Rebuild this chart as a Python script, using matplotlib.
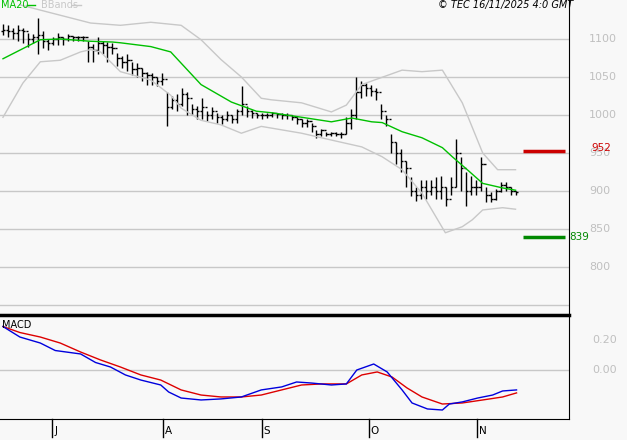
import matplotlib
matplotlib.use("Agg")
import matplotlib.pyplot as plt

# daily bars (one per trading day, mid-June to mid-Nov 2025)
close = [1112,1110,1108,1112,1110,1100,1102,1105,1098,1095,1100,1103,1100,
         1104,1102,1103,1102,1090,1085,1095,1092,1090,1088,1075,1070,1072,1060,1062,1055,
         1052,1050,1045,1048,1010,1020,1015,1028,1022,1008,1005,1010,1000,1005,998,995,
         1000,995,1005,1015,1005,1002,1000,1000,1000,1002,1001,1000,1000,998,995,990,
         992,985,975,980,975,976,975,975,990,1000,1030,1040,1035,1032,1030,1005,
         995,965,950,940,930,900,895,905,900,905,900,905,890,905,950,930,900,905,905,935,
         895,890,900,908,905,900,898]
opens = [1110,1112,1110,1108,1112,1110,1100,1102,1105,1098,1095,1100,1103,
         1100,1104,1102,1103,1102,1090,1085,1095,1092,1090,1088,1075,1070,1072,1060,1062,
         1055,1052,1050,1045,1048,1010,1020,1015,1028,1022,1008,1005,1010,1000,1005,998,
         995,1000,995,1005,1015,1005,1002,1000,1000,1000,1002,1001,1000,1000,998,995,
         990,992,985,975,980,975,976,975,975,990,1000,1030,1040,1035,1032,1030,
         1005,995,965,950,940,930,900,895,905,900,905,900,905,890,905,950,930,900,905,905,
         935,895,890,900,908,905,900]
high = [1120,1118,1115,1118,1115,1108,1106,1128,1110,1100,1102,1108,1103,
        1106,1104,1104,1104,1098,1093,1102,1098,1096,1095,1082,1078,1080,1070,1068,1062,
        1057,1055,1050,1055,1030,1025,1028,1035,1030,1015,1012,1022,1005,1010,1002,1000,
        1005,1000,1008,1038,1012,1006,1003,1002,1003,1004,1003,1002,1003,1000,998,995,
        995,990,980,982,978,978,977,977,998,1008,1050,1045,1042,1040,1035,1015,
        1000,975,965,955,940,918,905,915,915,915,918,920,905,918,968,945,925,920,915,945,
        905,898,903,912,912,905,900]
low = [1105,1103,1100,1098,1095,1090,1095,1080,1088,1085,1092,1092,1092,
       1098,1098,1098,1098,1070,1070,1080,1080,1070,1080,1065,1062,1058,1052,1050,1045,
       1040,1040,1038,1040,985,1008,1005,1012,1000,1000,995,995,992,995,990,988,
       992,990,990,1000,998,996,996,995,996,998,996,995,995,993,988,984,
       984,978,970,972,972,972,972,970,975,982,995,1022,1025,1025,1020,995,
       985,950,935,925,905,893,887,890,890,895,890,890,880,895,905,900,880,895,895,900,
       885,885,888,898,900,895,895]

# indicators (x in bar index)
ma_x = [0, 7.5, 11.5, 17.6, 22, 23.6, 29.7, 33.7, 39.8, 45.9, 50.9, 53.9, 60, 66, 70.1,
        74.1, 76.2, 80.2, 84.2, 88.3, 90.3, 93.3, 96.4, 100.4, 103]
ma20 = [1074, 1099, 1100, 1097, 1096, 1095, 1090, 1083, 1040, 1017, 1005, 1003, 997, 991, 996,
        991, 990, 978, 970, 957, 945, 928, 910, 904, 901]
up_x = [3.4, 7.5, 17.6, 23.6, 29.7, 35.8, 39.8, 43.8, 47.9, 51.9, 53.9, 60, 66, 69, 72.1,
        80.2, 84.2, 88.3, 92.3, 96.4, 99.4, 103]
upper = [1145, 1138, 1121, 1118, 1122, 1118, 1099, 1073, 1050, 1022, 1020, 1016, 1004, 1013, 1040,
         1059, 1057, 1059, 1016, 950, 928, 928]
lo_x = [0, 4, 7.5, 11.5, 15.6, 17.6, 19.6, 23.6, 29.7, 33.7, 35.8, 39.8, 43.8, 47.9, 51.9,
        60, 66, 72.1, 76.2, 80.2, 84.2, 88.9, 92.3, 94.3, 96.4, 100.4, 103]
lower = [997, 1042, 1070, 1072, 1083, 1086, 1083, 1057, 1046, 1026, 1009, 993, 987, 976, 985,
         976, 967, 958, 945, 928, 897, 845, 853, 862, 875, 878, 876]

macd_x = [0, 3.4, 7.5, 10.5, 15.6, 18.6, 21.6, 24.6, 27.7, 31.7, 33.3, 35.8, 39.8, 43.8, 47.9,
          51.9, 56, 59, 62, 66, 69, 71.1, 74.5, 77.2, 80.2, 82.2, 85.3, 88.3, 89.7, 92.3,
          95.4, 98.4, 100.4, 103.2]
macd = [0.29, 0.22, 0.18, 0.13, 0.107, 0.05, 0.02, -0.033, -0.067, -0.1, -0.147, -0.187, -0.2,
        -0.193, -0.18, -0.133, -0.113, -0.08, -0.087, -0.1, -0.093, 0.0, 0.04, -0.013, -0.133,
        -0.22, -0.26, -0.267, -0.227, -0.213, -0.187, -0.167, -0.14, -0.133]
sig_x = [0, 3.4, 7.5, 11.5, 15.6, 19.6, 23.6, 27.7, 31.7, 35.8, 39.8, 43.8, 47.9, 51.9, 56,
         60, 64, 69, 72.1, 75.2, 78.2, 81.2, 84.2, 88.3, 92.3, 96.4, 100.4, 103.2]
signal = [0.29, 0.25, 0.22, 0.18, 0.12, 0.067, 0.02, -0.033, -0.067, -0.133, -0.167, -0.18,
          -0.18, -0.167, -0.133, -0.1, -0.093, -0.093, -0.033, -0.013, -0.047, -0.12, -0.18,
          -0.227, -0.22, -0.2, -0.18, -0.153]

month_pos = [9.9, 32.1, 52, 73.5, 95.2]
month_lab = ["J", "A", "S", "O", "N"]
price_ticks = [800, 850, 900, 950, 1000, 1050, 1100]
resist, support = 952, 839

bg = "#f8f8f8"
grid = "#c8c8c8"
fig = plt.figure(figsize=(6.27, 4.4), dpi=100, facecolor=bg)
W, H = 627, 440
xl = (-0.6, -0.6 + 566 / 4.95)
ylo, yhi = 736.8, 1151.3

ax = fig.add_axes([0, 125 / H, 569 / W, 315 / H], facecolor=bg)
ax.set_xlim(*xl)
ax.set_ylim(ylo, yhi)
for p in price_ticks + [750]:
    ax.axhline(p, color=grid, lw=1, zorder=0)
n = len(close)
ax.vlines(range(n), low, high, color="black", lw=1)
ax.hlines(opens, [i - 0.45 for i in range(n)], range(n), color="black", lw=1)
ax.hlines(close, range(n), [i + 0.45 for i in range(n)], color="black", lw=1)
ax.plot(ma_x, ma20, color="#00c000", lw=1)
ax.plot(up_x, upper, color="#c8c8c8", lw=1)
ax.plot(lo_x, lower, color="#c8c8c8", lw=1)
ax.hlines(resist, 104.5, 113, color="#cc0000", lw=2.5)
ax.hlines(support, 104.5, 113, color="#008800", lw=2.5)
ax.set_xticks([])
ax.set_yticks([])
for s in ["top", "left", "bottom"]:
    ax.spines[s].set_visible(False)
ax.spines["right"].set_color("black")
for p in price_ticks:
    ax.text(1.035, (p - ylo) / (yhi - ylo), str(p), transform=ax.transAxes,
            color="#c0c0c0", fontsize=8, va="center", ha="left")
ax.text(1.04, (resist + 4 - ylo) / (yhi - ylo), str(resist), transform=ax.transAxes,
        color="#cc0000", fontsize=7.5, va="center", ha="left")
ax.text(1.0, (support - ylo) / (yhi - ylo), str(support), transform=ax.transAxes,
        color="#008800", fontsize=7.5, va="center", ha="left")

# header legend
fig.text(1 / W, 1 - 5 / H, "MA20", color="#00c000", fontsize=7, va="center")
fig.add_artist(plt.Line2D([27 / W, 35 / W], [1 - 5 / H] * 2, color="#00c000", lw=1))
fig.text(41 / W, 1 - 5 / H, "BBands", color="#c8c8c8", fontsize=7, va="center")
fig.add_artist(plt.Line2D([72 / W, 81 / W], [1 - 5 / H] * 2, color="#c8c8c8", lw=1))
fig.text(573 / W, 1 - 5 / H, "© TEC 16/11/2025 4:0 GMT", color="black", fontsize=7,
         style="italic", va="center", ha="right")

# MACD panel
bx = fig.add_axes([0, 21 / H, 569 / W, 104 / H], facecolor=bg)
bx.set_xlim(*xl)
bx.set_ylim(-0.327, 0.367)
bx.axhline(0, color=grid, lw=1, zorder=0)
bx.plot(sig_x, signal, color="#dd0000", lw=1)
bx.plot(macd_x, macd, color="#0000dd", lw=1)
bx.set_yticks([])
bx.set_xticks([])
bx.spines["left"].set_visible(False)
bx.spines["top"].set_linewidth(2.5)
bx.spines["right"].set_color("black")
bx.text(0.003, 0.9, "MACD", transform=bx.transAxes, fontsize=7, va="center")
for v, lab in [(0.2, "0.20"), (0.0, "0.00")]:
    bx.text(1.04, (v + 0.327) / 0.694, lab, transform=bx.transAxes,
            color="#c0c0c0", fontsize=8, va="center", ha="left")
for p, lab in zip(month_pos, month_lab):
    bx.plot([p, p], [0, -0.17], transform=bx.get_xaxis_transform(), color="black",
            lw=1, clip_on=False)
    bx.text(p + 0.4, -0.12, lab, transform=bx.get_xaxis_transform(), fontsize=7.5,
            va="center", ha="left")

fig.savefig("out.png", dpi=100, facecolor=bg)
